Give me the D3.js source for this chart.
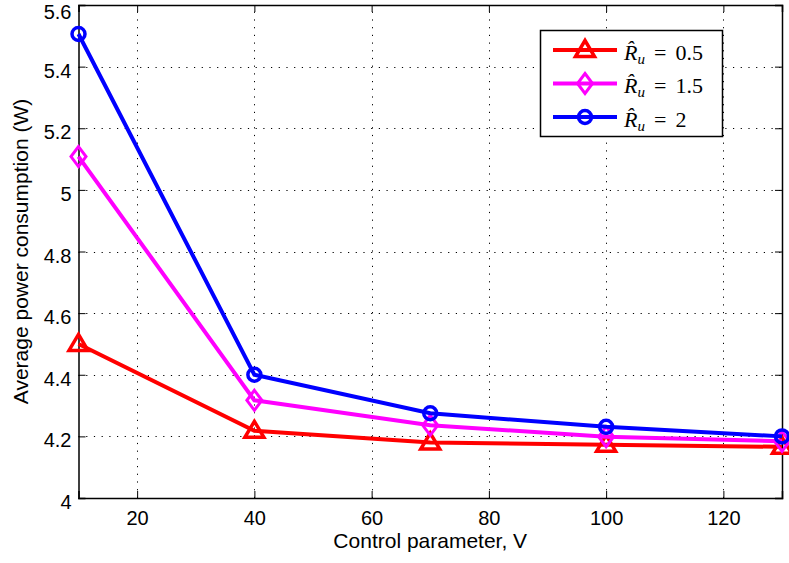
<!DOCTYPE html>
<html>
<head>
<meta charset="utf-8">
<script src="https://cdn.jsdelivr.net/npm/d3@7"></script>
<style>
  body { margin: 0; background: #fff; }
  svg { display: block; }
</style>
</head>
<body>
<svg id="chart"></svg>
<script>
// chart data
const xValues = [10, 40, 70, 100, 130];
const seriesNames = ['0.5', '1.5', '2'];
const seriesColours = ['#ff0000', '#ff00ff', '#0000ff'];
const seriesMarkers = ['triangle', 'diamond', 'circle'];
const redValues = [4.5, 4.218, 4.18, 4.173, 4.166];
const magentaValues = [5.108, 4.317, 4.236, 4.199, 4.184];
const blueValues = [5.506, 4.4, 4.275, 4.231, 4.2];
const xTicks = [20, 40, 60, 80, 100, 120];
const yTicks = [4, 4.2, 4.4, 4.6, 4.8, 5, 5.2, 5.4, 5.6];

const width = 789, height = 563;
const margin = { top: 5, right: 7, bottom: 65, left: 78.5 };
const sans = '"Liberation Sans", Arial, sans-serif';

const svg = d3.select('#chart')
  .attr('width', width)
  .attr('height', height);

const x = d3.scaleLinear().domain([10, 130]).range([margin.left, width - margin.right]);
const y = d3.scaleLinear().domain([4, 5.6]).range([height - margin.bottom, margin.top]);

// grid lines, dotted
const grid = svg.append('g')
  .attr('stroke', '#000')
  .attr('stroke-width', 1)
  .attr('stroke-dasharray', '1.2,6.5');

grid.selectAll('.vgrid')
  .data(xTicks)
  .enter().append('line')
  .attr('x1', d => Math.round(x(d)) + 0.5)
  .attr('x2', d => Math.round(x(d)) + 0.5)
  .attr('y1', y(4))
  .attr('y2', y(5.6));

grid.selectAll('.hgrid')
  .data(yTicks.slice(1, -1))
  .enter().append('line')
  .attr('y1', d => Math.round(y(d)) + 0.5)
  .attr('y2', d => Math.round(y(d)) + 0.5)
  .attr('x1', x(10))
  .attr('x2', x(130));

// axes with inward ticks
const xAxis = svg.append('g')
  .attr('transform', `translate(0,${y(4)})`)
  .call(d3.axisBottom(x).tickValues(xTicks).tickSize(-7).tickPadding(13).tickFormat(d3.format('d')));

const xAxisTop = svg.append('g')
  .attr('transform', `translate(0,${y(5.6)})`)
  .call(d3.axisTop(x).tickValues(xTicks).tickSize(-7).tickFormat(''));

const yAxis = svg.append('g')
  .attr('transform', `translate(${x(10)},0)`)
  .call(d3.axisLeft(y).tickValues(yTicks).tickSize(-7).tickPadding(7).tickFormat(d => String(+d.toFixed(1))));

const yAxisRight = svg.append('g')
  .attr('transform', `translate(${x(130)},0)`)
  .call(d3.axisRight(y).tickValues(yTicks).tickSize(-7).tickFormat(''));

[xAxis, xAxisTop, yAxis, yAxisRight].forEach(g => {
  g.select('.domain').attr('stroke', '#000').attr('stroke-width', 1.5);
  g.selectAll('.tick line').attr('stroke', '#000').attr('stroke-width', 1);
  g.selectAll('.tick text')
    .attr('font-family', sans)
    .attr('font-size', 20)
    .attr('fill', '#000');
});
// top label nudged down so it stays inside the picture
yAxis.selectAll('.tick text').attr('dy', d => d === 5.6 ? '0.66em' : '0.53em');

// axis labels
svg.append('text')
  .attr('x', (x(10) + x(130)) / 2)
  .attr('y', 548)
  .attr('text-anchor', 'middle')
  .attr('font-family', sans)
  .attr('font-size', 21)
  .text('Control parameter, V');

svg.append('text')
  .attr('transform', `translate(28,${(y(4) + y(5.6)) / 2}) rotate(-90)`)
  .attr('text-anchor', 'middle')
  .attr('font-family', sans)
  .attr('font-size', 21)
  .text('Average power consumption (W)');

// markers
const drawMarker = (g, type, cx, cy, colour) => {
  if (type === 'triangle') {
    g.append('path')
      .attr('d', `M${cx},${cy - 9.5}L${cx + 9.5},${cy + 6.5}L${cx - 9.5},${cy + 6.5}Z`)
      .attr('fill', 'none').attr('stroke', colour).attr('stroke-width', 3.5);
  } else if (type === 'diamond') {
    g.append('path')
      .attr('d', `M${cx},${cy - 10}L${cx + 7.5},${cy}L${cx},${cy + 10}L${cx - 7.5},${cy}Z`)
      .attr('fill', 'none').attr('stroke', colour).attr('stroke-width', 3);
  } else {
    g.append('circle')
      .attr('cx', cx).attr('cy', cy).attr('r', 6.5)
      .attr('fill', 'none').attr('stroke', colour).attr('stroke-width', 3.5);
  }
};

const allSeries = [redValues, magentaValues, blueValues];
const line = d3.line().x((d, i) => x(xValues[i])).y(d => y(d));

const plot = svg.append('g');
allSeries.forEach((values, s) => {
  const g = plot.append('g');
  g.append('path')
    .datum(values)
    .attr('d', line)
    .attr('fill', 'none')
    .attr('stroke', seriesColours[s])
    .attr('stroke-width', 4);
  values.forEach((v, i) => drawMarker(g, seriesMarkers[s], x(xValues[i]), y(v), seriesColours[s]));
});

// legend
const legend = svg.append('g');
legend.append('rect')
  .attr('x', 540.5).attr('y', 30.5)
  .attr('width', 182).attr('height', 106)
  .attr('fill', '#fff').attr('stroke', '#000').attr('stroke-width', 1.5);

seriesNames.forEach((name, s) => {
  const ly = 50 + s * 33.5;
  legend.append('line')
    .attr('x1', 553).attr('x2', 617)
    .attr('y1', ly).attr('y2', ly)
    .attr('stroke', seriesColours[s]).attr('stroke-width', 4);
  drawMarker(legend, seriesMarkers[s], 585, ly, seriesColours[s]);
  const t = legend.append('text')
    .attr('x', 624).attr('y', ly + 9.5)
    .attr('font-family', '"Liberation Serif", "DejaVu Serif", serif')
    .attr('font-size', 22);
  t.append('tspan').attr('font-style', 'italic').text('R\u0302');
  t.append('tspan').attr('font-style', 'italic').attr('font-size', 15).attr('dy', 4).text('u');
  t.append('tspan').attr('dy', -4).attr('dx', 9).text('=');
  t.append('tspan').attr('dx', 9).text(name);
});
</script>
</body>
</html>
